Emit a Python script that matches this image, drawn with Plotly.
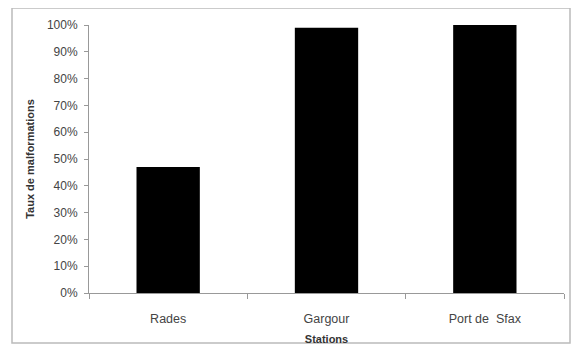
import plotly.graph_objects as go

stations = ["Rades", "Gargour", "Port de  Sfax"]
taux = [0.47, 0.99, 1.00]
y_ticks = [i / 10 for i in range(11)]
y_tick_labels = [f"{i*10}%" for i in range(11)]

fig = go.Figure(go.Bar(x=stations, y=taux, marker=dict(color="black", line=dict(width=0)), width=0.4))

# page body has an 8px margin, so the figure is drawn 8px smaller and offset
OFF = 8
W, H = 580 - OFF, 347 - OFF
L, R, T, B = 89 - OFF, 16, 25 - OFF, 54
pw, ph = W - L - R, H - T - B

def px_x(x):
    return (x - OFF - L) / pw

def px_y(y):
    return (H - B - (y - OFF)) / ph

fig.update_layout(
    width=W, height=H,
    margin=dict(l=L, r=R, t=T, b=B, autoexpand=False),
    paper_bgcolor="white", plot_bgcolor="white",
    showlegend=False,
    font=dict(family="Liberation Sans", size=12, color="#444444"),
    xaxis=dict(
        automargin=False,
        showline=True, linecolor="#999999", linewidth=1,
        ticks="outside", ticklen=5, tickcolor="#999999", tickson="boundaries",
        ticklabelstandoff=14,
        title=dict(text="<b>Stations</b>", standoff=10, font=dict(size=11, color="#333")),
        tickfont=dict(size=12.5, color="#444"),
    ),
    yaxis=dict(
        automargin=False,
        range=[0, 1], tickvals=y_ticks, ticktext=y_tick_labels,
        showline=True, linecolor="#999999", linewidth=1,
        ticks="outside", ticklen=4, tickcolor="#999999",
        ticklabelstandoff=4,
        showgrid=False, zeroline=False,
        title=dict(text="<b>Taux de malformations</b>", standoff=10, font=dict(size=11, color="#333")),
        tickfont=dict(size=12, color="#444"),
    ),
    shapes=[dict(
        type="rect", xref="paper", yref="paper",
        x0=px_x(12), x1=px_x(570), y0=px_y(343), y1=px_y(8),
        line=dict(color="#bbbbbb", width=1.5), fillcolor="rgba(0,0,0,0)", layer="below",
    )],
)

fig.write_html("out.html")
